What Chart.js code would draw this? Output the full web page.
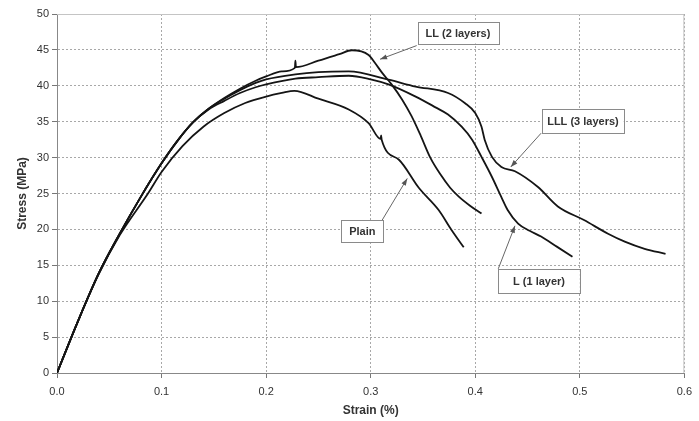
<!DOCTYPE html>
<html>
<head>
<meta charset="utf-8">
<script src="https://cdn.jsdelivr.net/npm/chart.js@4.4.1/dist/chart.umd.min.js"></script>
<style>
  html, body { margin: 0; padding: 0; background: #fff; }
  canvas { display: block; }
</style>
</head>
<body>
<canvas id="stressChart" width="699" height="421"></canvas>
<script>
// Stress-strain curves (strain in %, stress in MPa)
const plainStrain = [0, 0.02, 0.04, 0.06, 0.087, 0.1, 0.12, 0.14, 0.16, 0.18, 0.2, 0.215, 0.227, 0.25, 0.279, 0.298, 0.3095, 0.3100, 0.3105, 0.327, 0.346, 0.365, 0.377, 0.389];
const plainStress = [0, 7.2, 13.8, 19.2, 25, 28.0, 31.6, 34.3, 36.2, 37.6, 38.5, 39.0, 39.3, 38.2, 36.7, 34.8, 32.6, 33.1, 32.5, 29.7, 25.8, 22.7, 20.0, 17.5];

const lStrain = [0, 0.02, 0.04, 0.06, 0.08, 0.1, 0.115, 0.13, 0.145, 0.16, 0.175, 0.19, 0.2, 0.228, 0.25, 0.279, 0.3, 0.317, 0.343, 0.362, 0.374, 0.387, 0.397, 0.406, 0.416, 0.425, 0.431, 0.441, 0.452, 0.463, 0.478, 0.493];
const lStress = [0, 7.2, 13.9, 19.4, 24.5, 29.2, 32.3, 34.9, 36.7, 37.9, 39.0, 39.8, 40.2, 41.0, 41.2, 41.4, 40.9, 40.2, 38.5, 37.0, 36.0, 34.3, 32.5, 30.1, 27.3, 24.5, 22.7, 20.8, 19.8, 19.0, 17.6, 16.2];

const llStrain = [0, 0.02, 0.04, 0.06, 0.08, 0.1, 0.115, 0.13, 0.145, 0.16, 0.175, 0.19, 0.2, 0.215, 0.2275, 0.2280, 0.2285, 0.25, 0.27, 0.282, 0.298, 0.304, 0.311, 0.320, 0.330, 0.339, 0.348, 0.357, 0.367, 0.376, 0.384, 0.395, 0.406];
const llStress = [0, 7.2, 13.9, 19.4, 24.5, 29.2, 32.3, 34.9, 36.8, 38.3, 39.6, 40.7, 41.3, 42.0, 42.5, 43.5, 42.6, 43.5, 44.4, 44.95, 44.3, 43.2, 41.8, 40.2, 38.1, 35.8, 33.0, 30.0, 27.6, 25.8, 24.6, 23.3, 22.2];

const lllStrain = [0, 0.02, 0.04, 0.06, 0.08, 0.1, 0.115, 0.13, 0.145, 0.16, 0.175, 0.19, 0.2, 0.228, 0.25, 0.279, 0.317, 0.343, 0.374, 0.390, 0.400, 0.406, 0.409, 0.416, 0.425, 0.438, 0.46, 0.479, 0.504, 0.527, 0.543, 0.562, 0.582];
const lllStress = [0, 7.2, 13.9, 19.4, 24.5, 29.2, 32.3, 34.9, 36.8, 38.2, 39.4, 40.4, 40.9, 41.6, 41.9, 42.0, 40.85, 39.9, 39.0, 37.6, 36.2, 34.3, 32.5, 30.1, 28.7, 28.1, 25.9, 23.2, 21.3, 19.4, 18.3, 17.3, 16.6];

const strainTicks = [0, 0.1, 0.2, 0.3, 0.4, 0.5, 0.6];
const stressTicks = [0, 5, 10, 15, 20, 25, 30, 35, 40, 45, 50];

// Callout labels: box corners and arrow in data units
const callouts = [
    { text: 'LL (2 layers)', box: [0.345, 48.95, 0.422, 45.9], tail: [0.344, 45.6], tip: [0.309, 43.7] },
    { text: 'LLL (3 layers)', box: [0.464, 36.8, 0.542, 33.4], tail: [0.463, 33.4], tip: [0.434, 28.7] },
    { text: 'Plain', box: [0.272, 21.3, 0.312, 18.3], tail: [0.311, 21.3], tip: [0.335, 27.1] },
    { text: 'L (1 layer)', box: [0.422, 14.5, 0.500, 11.2], tail: [0.422, 14.5], tip: [0.438, 20.5] }
];

function toPoints(xs, ys) {
    return xs.map((x, i) => ({ x: x, y: ys[i] }));
}

function curve(label, xs, ys) {
    return {
        label: label,
        data: toPoints(xs, ys),
        borderColor: '#151515',
        borderWidth: 1.8,
        pointRadius: 0,
        fill: false,
        cubicInterpolationMode: 'monotone'
    };
}

// light frame on top and right of the plot area
const framePlugin = {
    id: 'frame',
    beforeDatasetsDraw(chart) {
        const { ctx, chartArea: a } = chart;
        ctx.save();
        ctx.strokeStyle = '#c4c4c4';
        ctx.lineWidth = 1;
        ctx.beginPath();
        ctx.moveTo(a.left, a.top + 0.5);
        ctx.lineTo(a.right - 0.5, a.top + 0.5);
        ctx.lineTo(a.right - 0.5, a.bottom);
        ctx.stroke();
        ctx.restore();
    }
};

const calloutPlugin = {
    id: 'callouts',
    afterDatasetsDraw(chart) {
        const { ctx, scales: { x, y } } = chart;
        ctx.save();
        callouts.forEach(c => {
            const bx1 = x.getPixelForValue(c.box[0]), by1 = y.getPixelForValue(c.box[1]);
            const bx2 = x.getPixelForValue(c.box[2]), by2 = y.getPixelForValue(c.box[3]);
            const tx = x.getPixelForValue(c.tail[0]), ty = y.getPixelForValue(c.tail[1]);
            const px = x.getPixelForValue(c.tip[0]), py = y.getPixelForValue(c.tip[1]);

            // arrow
            ctx.strokeStyle = '#666';
            ctx.fillStyle = '#555';
            ctx.lineWidth = 1;
            ctx.beginPath();
            ctx.moveTo(tx, ty);
            ctx.lineTo(px, py);
            ctx.stroke();
            const ang = Math.atan2(py - ty, px - tx);
            ctx.beginPath();
            ctx.moveTo(px, py);
            ctx.lineTo(px - 7 * Math.cos(ang) + 2.5 * Math.sin(ang), py - 7 * Math.sin(ang) - 2.5 * Math.cos(ang));
            ctx.lineTo(px - 7 * Math.cos(ang) - 2.5 * Math.sin(ang), py - 7 * Math.sin(ang) + 2.5 * Math.cos(ang));
            ctx.closePath();
            ctx.fill();

            // box
            ctx.fillStyle = '#fff';
            ctx.fillRect(bx1, by1, bx2 - bx1, by2 - by1);
            ctx.strokeStyle = '#8a8a8a';
            ctx.strokeRect(Math.round(bx1) + 0.5, Math.round(by1) + 0.5, Math.round(bx2 - bx1), Math.round(by2 - by1));

            ctx.fillStyle = '#333';
            ctx.font = 'bold 11px "Liberation Sans", Arial, sans-serif';
            ctx.textAlign = 'center';
            ctx.textBaseline = 'middle';
            ctx.fillText(c.text, (bx1 + bx2) / 2, (by1 + by2) / 2 + 1);
        });
        ctx.restore();
    }
};

Chart.defaults.font.family = '"Liberation Sans", Arial, sans-serif';
Chart.defaults.font.size = 11;
Chart.defaults.color = '#333';

const ctx = document.getElementById('stressChart').getContext('2d');
new Chart(ctx, {
    type: 'line',
    data: {
        datasets: [
            curve('Plain', plainStrain, plainStress),
            curve('L (1 layer)', lStrain, lStress),
            curve('LL (2 layers)', llStrain, llStress),
            curve('LLL (3 layers)', lllStrain, lllStress)
        ]
    },
    options: {
        responsive: false,
        animation: false,
        layout: { padding: { top: 14, right: 12 } },
        plugins: {
            legend: { display: false },
            tooltip: { enabled: false }
        },
        scales: {
            x: {
                type: 'linear',
                min: 0,
                max: 0.6,
                afterBuildTicks: s => { s.ticks = strainTicks.map(v => ({ value: v })); },
                afterFit: s => { s.height = 48; },
                ticks: { padding: 7, callback: v => v.toFixed(1), maxRotation: 0 },
                grid: { color: '#a8a8a8', tickLength: 5, tickColor: '#777' },
                border: { color: '#888', dash: [2, 2] },
                title: { display: true, text: 'Strain (%)', font: { weight: 'bold', size: 12 }, padding: { top: 0, bottom: 3 } }
            },
            y: {
                min: 0,
                max: 50,
                afterBuildTicks: s => { s.ticks = stressTicks.map(v => ({ value: v })); },
                afterFit: s => { s.width = 57; },
                ticks: { padding: 3 },
                grid: { color: '#a8a8a8', tickLength: 5, tickColor: '#777' },
                border: { color: '#888', dash: [2, 2] },
                title: { display: true, text: 'Stress (MPa)', font: { weight: 'bold', size: 12 }, padding: { top: 15, bottom: 0 } }
            }
        }
    },
    plugins: [framePlugin, calloutPlugin]
});
</script>
</body>
</html>
